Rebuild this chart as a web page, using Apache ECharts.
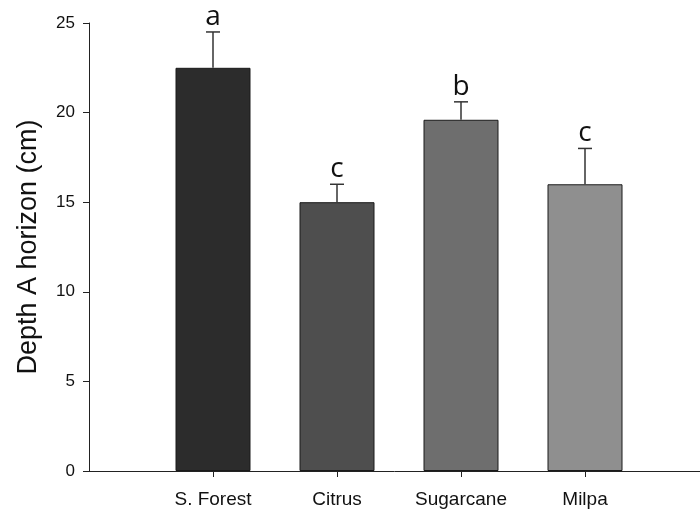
<!DOCTYPE html>
<html>
<head>
<meta charset="utf-8">
<script src="https://cdn.jsdelivr.net/npm/echarts@6/dist/echarts.min.js"></script>
<style>html,body{margin:0;padding:0;background:#fff}#c{width:700px;height:515px}</style>
</head>
<body>
<div id="c"></div>
<script>
const categories = ['S. Forest', 'Citrus', 'Sugarcane', 'Milpa'];
const means = [22.5, 15.0, 19.6, 16.0];
const errors = [2.0, 1.0, 1.0, 2.0];
const letters = ['a', 'c', 'b', 'c'];
const barColors = ['#2c2c2c', '#4e4e4e', '#6e6e6e', '#8f8f8f'];
const yTicks = [0, 5, 10, 15, 20, 25];

const chart = echarts.init(document.getElementById('c'), null, {renderer: 'canvas'});
const option = {
  animation: false,
  backgroundColor: '#fff',
  grid: [
    {left: 151, right: 53, top: 23, bottom: 44},
    {left: 89, right: 0, top: 23, bottom: 44}
  ],
  xAxis: [
    {
      type: 'category', gridIndex: 0, data: categories,
      axisLine: {show: false},
      axisTick: {show: true, alignWithLabel: true, length: 6, lineStyle: {color: '#222', width: 1}},
      axisLabel: {color: '#111', fontFamily: '"Liberation Sans", Arial', fontSize: 19, margin: 19, interval: 0}
    },
    {
      type: 'value', gridIndex: 1, min: 0, max: 1,
      axisLine: {show: true, onZero: false, lineStyle: {color: '#222', width: 1}},
      axisTick: {show: false}, axisLabel: {show: false}, splitLine: {show: false}
    }
  ],
  yAxis: [
    {
      type: 'value', gridIndex: 0, min: yTicks[0], max: yTicks[yTicks.length - 1], interval: 5,
      offset: 62,
      name: 'Depth A horizon (cm)', nameLocation: 'middle', nameGap: 47,
      nameTextStyle: {color: '#111', fontFamily: '"Liberation Sans", Arial', fontSize: 27},
      axisLine: {show: true, lineStyle: {color: '#222', width: 1}},
      axisTick: {show: true, length: 6, lineStyle: {color: '#222', width: 1}},
      axisLabel: {color: '#111', fontFamily: '"Liberation Sans", Arial', fontSize: 17, margin: 14},
      splitLine: {show: false}
    },
    {type: 'value', gridIndex: 1, show: false, min: 0, max: 1}
  ],
  series: [
    {
      type: 'bar', xAxisIndex: 0, yAxisIndex: 0, barWidth: 75,
      data: means.map((v, i) => ({value: v, itemStyle: {color: barColors[i]}})),
      itemStyle: {borderColor: '#1a1a1a', borderWidth: 1}
    },
    {
      type: 'custom', xAxisIndex: 0, yAxisIndex: 0, z: 5,
      data: means.map((v, i) => [i, v, errors[i]]),
      renderItem: function (params, api) {
        const i = api.value(0);
        const base = api.coord([i, api.value(1)]);
        const top = api.coord([i, api.value(1) + api.value(2)]);
        const cap = 7;
        const style = {stroke: '#333', lineWidth: 1.5};
        return {
          type: 'group',
          children: [
            {type: 'line', shape: {x1: base[0], y1: base[1], x2: top[0], y2: top[1]}, style: style},
            {type: 'line', shape: {x1: top[0] - cap, y1: top[1], x2: top[0] + cap, y2: top[1]}, style: style},
            {type: 'text', style: {x: top[0], y: top[1] - 1, text: letters[params.dataIndex],
              textAlign: 'center', textVerticalAlign: 'bottom',
              font: '28px "Open Sans", "Noto Sans", sans-serif', fill: '#111'}}
          ]
        };
      }
    }
  ]
};
chart.setOption(option);
</script>
</body>
</html>
